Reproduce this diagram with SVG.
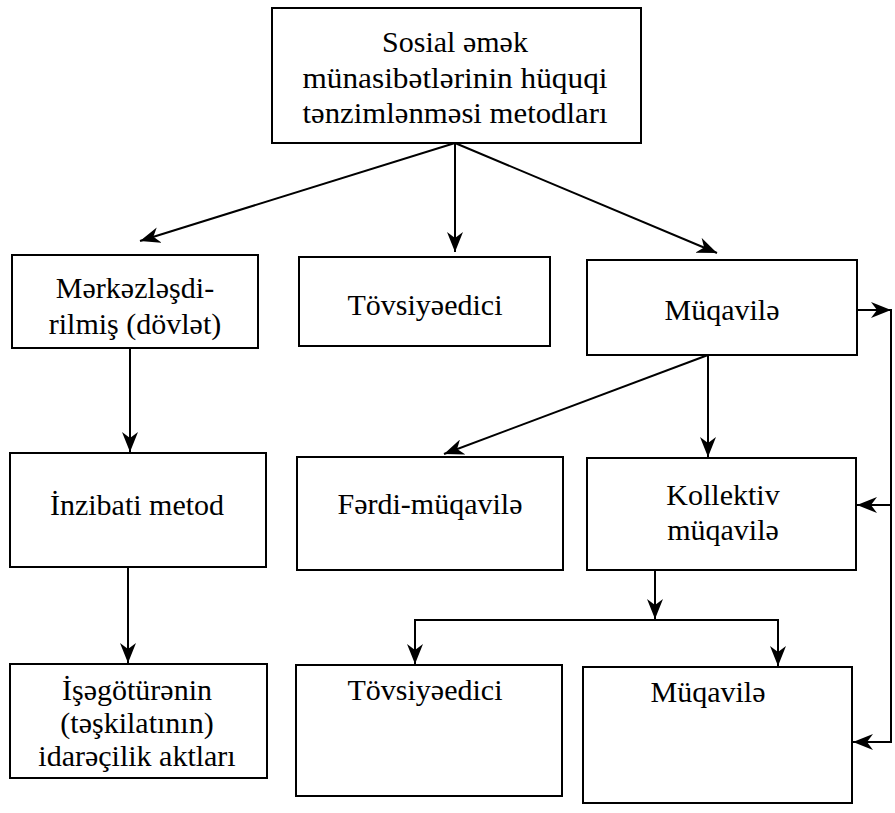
<svg xmlns="http://www.w3.org/2000/svg" width="895" height="813" viewBox="0 0 895 813">
<style>
.box{fill:#fff;stroke:#000;stroke-width:2}
.t{font-family:'Liberation Serif','DejaVu Serif',serif;font-size:30px;fill:#000;text-anchor:middle}
.c{fill:none;stroke:#000;stroke-width:2}
</style>
<defs>
<marker id="ah" viewBox="0 0 20 16" refX="20" refY="8" markerWidth="20" markerHeight="16" orient="auto" markerUnits="userSpaceOnUse">
<path d="M0,0 L20,8 L0,16 L6,8 z" fill="#000"/>
</marker>
</defs>
<rect width="895" height="813" fill="#fff"/>
<g id="connectors">
<line class="c" x1="455" y1="143" x2="140" y2="241" marker-end="url(#ah)"/>
<line class="c" x1="455" y1="143" x2="455" y2="252" marker-end="url(#ah)"/>
<line class="c" x1="455" y1="143" x2="717" y2="253" marker-end="url(#ah)"/>
<line class="c" x1="130" y1="348" x2="130" y2="452" marker-end="url(#ah)"/>
<line class="c" x1="128" y1="567" x2="128" y2="663" marker-end="url(#ah)"/>
<line class="c" x1="708" y1="355" x2="444" y2="454" marker-end="url(#ah)"/>
<line class="c" x1="708" y1="355" x2="708" y2="457" marker-end="url(#ah)"/>
<line class="c" x1="655" y1="570" x2="655" y2="619" marker-end="url(#ah)"/>
<polyline class="c" points="415,620 778,620 778,666" marker-end="url(#ah)"/>
<line class="c" x1="415" y1="619" x2="415" y2="664" marker-end="url(#ah)"/>
<line class="c" x1="857" y1="310" x2="891" y2="310" marker-end="url(#ah)"/>
<polyline class="c" points="891,309 891,743"/>
<line class="c" x1="892" y1="505" x2="857" y2="505" marker-end="url(#ah)"/>
<line class="c" x1="892" y1="742" x2="853" y2="742" marker-end="url(#ah)"/>
</g>
<g id="n-top">
<rect class="box" x="272" y="8" width="369" height="135"/>
<text class="t" x="455" y="52">Sosial əmək</text>
<text class="t" x="455" y="88" textLength="305" lengthAdjust="spacingAndGlyphs">münasibətlərinin hüquqi</text>
<text class="t" x="455" y="123" textLength="305" lengthAdjust="spacingAndGlyphs">tənzimlənməsi metodları</text>
</g>
<g id="n-merkez">
<rect class="box" x="12" y="255" width="246" height="93"/>
<text class="t" x="135" y="298">Mərkəzləşdi-</text>
<text class="t" x="135" y="334">rilmiş (dövlət)</text>
</g>
<g id="n-tovsiye1">
<rect class="box" x="299" y="257" width="251" height="89"/>
<text class="t" x="425" y="315">Tövsiyəedici</text>
</g>
<g id="n-muqavile1">
<rect class="box" x="587" y="260" width="270" height="95"/>
<text class="t" x="722" y="320">Müqavilə</text>
</g>
<g id="n-inzibati">
<rect class="box" x="10" y="453" width="256" height="114"/>
<text class="t" x="137" y="515">İnzibati metod</text>
</g>
<g id="n-ferdi">
<rect class="box" x="297" y="457" width="266" height="113"/>
<text class="t" x="430" y="514">Fərdi-müqavilə</text>
</g>
<g id="n-kollektiv">
<rect class="box" x="587" y="458" width="269" height="112"/>
<text class="t" x="723" y="505">Kollektiv</text>
<text class="t" x="723" y="540">müqavilə</text>
</g>
<g id="n-isegoturen">
<rect class="box" x="10" y="664" width="257" height="114"/>
<text class="t" x="137" y="700">İşəgötürənin</text>
<text class="t" x="137" y="733">(təşkilatının)</text>
<text class="t" x="137" y="766">idarəçilik aktları</text>
</g>
<g id="n-tovsiye2">
<rect class="box" x="296" y="665" width="266" height="131"/>
<text class="t" x="425" y="700">Tövsiyəedici</text>
</g>
<g id="n-muqavile2">
<rect class="box" x="583" y="667" width="269" height="136"/>
<text class="t" x="708" y="702">Müqavilə</text>
</g>
</svg>
